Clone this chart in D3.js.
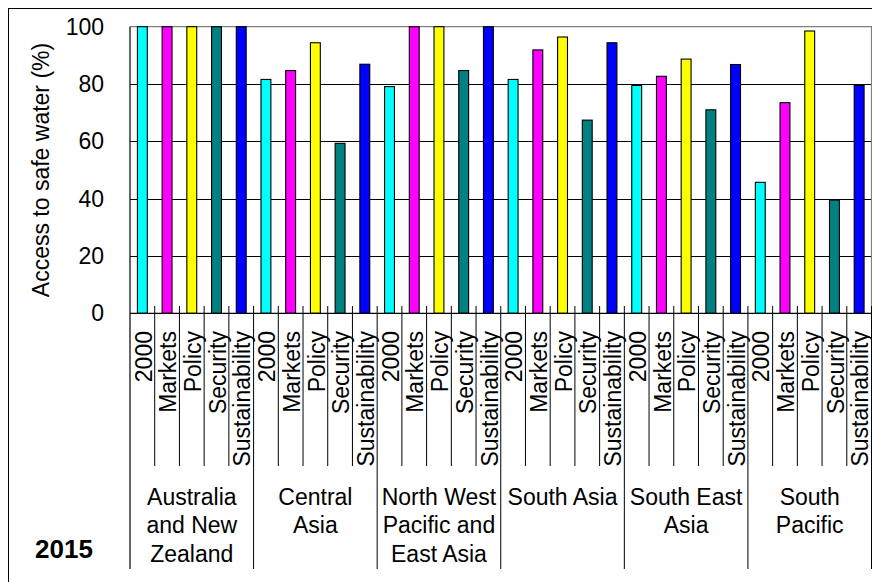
<!DOCTYPE html>
<html>
<head>
<meta charset="utf-8">
<script src="https://cdn.jsdelivr.net/npm/d3@7"></script>
<style>
  html, body { margin: 0; padding: 0; background: #fff; }
  svg { display: block; }
  text { font-family: Arial, "Liberation Sans", sans-serif; fill: #000; }
</style>
</head>
<body>
<svg id="chart" width="872" height="582"></svg>
<script>
// Regions (groups) with their multi-line labels
const regions = ["Australia and New Zealand", "Central Asia", "North West Pacific and East Asia",
                 "South Asia", "South East Asia", "South Pacific"];
const regionLines = [
  ["Australia", "and New", "Zealand"],
  ["Central", "Asia"],
  ["North West", "Pacific and", "East Asia"],
  ["South Asia"],
  ["South East", "Asia"],
  ["South", "Pacific"]
];
// Scenarios within each region
const scenarios = ["2000", "Markets", "Policy", "Security", "Sustainability"];
const scenarioColors = ["#00FFFF", "#FF00FF", "#FFFF00", "#008080", "#0000FF"];

// Access to safe water (%) per region, in scenario order
const ausNz        = [100, 100, 100, 100, 100];
const centralAsia  = [81.6, 84.7, 94.4, 59.3, 86.9];
const nwPacific    = [79.1, 100, 100, 84.7, 100];
const southAsia    = [81.6, 91.9, 96.4, 67.4, 94.4];
const southEast    = [79.5, 82.7, 88.7, 71.0, 86.8];
const southPacific = [45.7, 73.5, 98.5, 39.5, 79.5];
const regionValues = [ausNz, centralAsia, nwPacific, southAsia, southEast, southPacific];

const yTicks = [0, 20, 40, 60, 80, 100];
const yearLabel = "2015";
const yTitle = "Access to safe water (%)";

// Flatten into one row per bar
const rows = [];
regions.forEach((r, gi) => {
  scenarios.forEach((s, si) => {
    rows.push({ key: r + "|" + s, region: r, gi, scenario: s, si, value: regionValues[gi][si] });
  });
});

const svg = d3.select("#chart");
const plot = { left: 130, right: 871.5, top: 26.7, bottom: 313.3 };

const x = d3.scaleBand()
  .domain(rows.map(d => d.key))
  .range([plot.left, plot.right])
  .paddingInner(0.6)
  .paddingOuter(0.3);
const step = x.step();
const slotLeft = key => x(key) - step * 0.3;

const y = d3.scaleLinear().domain([0, 100]).range([plot.bottom, plot.top]);

// Outer frame
svg.append("rect")
  .attr("x", 8.5).attr("y", 8.5).attr("width", 900).attr("height", 600)
  .attr("fill", "none").attr("stroke", "#000").attr("stroke-width", 1);

// Horizontal gridlines
svg.append("g").selectAll("line")
  .data(yTicks.filter(t => t > 0 && t < 100))
  .join("line")
  .attr("x1", plot.left).attr("x2", plot.right)
  .attr("y1", d => Math.round(y(d)) + 0.5).attr("y2", d => Math.round(y(d)) + 0.5)
  .attr("stroke", "#000").attr("stroke-width", 1);

// Plot area border: top and right grey
svg.append("path")
  .attr("d", `M${plot.left},${plot.top}H${plot.right}V${plot.bottom}`)
  .attr("fill", "none").attr("stroke", "#808080").attr("stroke-width", 1.2);

// Bars
svg.append("g").selectAll("rect")
  .data(rows)
  .join("rect")
  .attr("x", d => x(d.key))
  .attr("width", x.bandwidth())
  .attr("y", d => y(d.value))
  .attr("height", d => y(0) - y(d.value))
  .attr("fill", d => scenarioColors[d.si])
  .attr("stroke", "#000").attr("stroke-width", 1.1);

// Y axis labels
const yAxis = d3.axisLeft(y).tickValues(yTicks).tickSize(0).tickPadding(26);
const ya = svg.append("g").attr("transform", `translate(${plot.left},0)`).call(yAxis);
ya.select(".domain").remove();
ya.selectAll("text").attr("font-size", "23px").attr("font-family", "Arial, 'Liberation Sans', sans-serif");

// Y axis line and x axis line
svg.append("line")
  .attr("x1", plot.left).attr("x2", plot.left)
  .attr("y1", plot.top).attr("y2", 569)
  .attr("stroke", "#000").attr("stroke-width", 1.2);
svg.append("line")
  .attr("x1", plot.left).attr("x2", plot.right)
  .attr("y1", plot.bottom).attr("y2", plot.bottom)
  .attr("stroke", "#000").attr("stroke-width", 1.2);

// Category separators: inner ones short, region ones long
const sepData = rows.slice(1).map(d => ({ xpos: slotLeft(d.key), major: d.si === 0 }));
sepData.push({ xpos: plot.right, major: true });
svg.append("g").selectAll("line")
  .data(sepData)
  .join("line")
  .attr("x1", d => d.xpos).attr("x2", d => d.xpos)
  .attr("y1", 306)
  .attr("y2", d => d.major ? 569 : 466)
  .attr("stroke", "#000").attr("stroke-width", 1);

// Scenario labels (rotated)
svg.append("g").selectAll("text")
  .data(rows)
  .join("text")
  .attr("transform", d => `translate(${x(d.key) + x.bandwidth() / 2},331) rotate(-90)`)
  .attr("text-anchor", "end")
  .attr("dy", "0.4em")
  .attr("font-size", "23px")
  .text(d => d.scenario);

// Region labels
const regionG = svg.append("g").selectAll("text")
  .data(regions)
  .join("text")
  .attr("text-anchor", "middle")
  .attr("font-size", "23px")
  .attr("x", (d, i) => {
    const first = x(rows[i * 5].key) - step * 0.3;
    return first + step * 2.5;
  })
  .attr("y", 504.5);
regionG.selectAll("tspan")
  .data((d, i) => regionLines[i])
  .join("tspan")
  .attr("x", function () { return d3.select(this.parentNode).attr("x"); })
  .attr("dy", (d, i) => i === 0 ? 0 : 28.8)
  .text(d => d);

// Y axis title
svg.append("text")
  .attr("transform", `translate(49,${(plot.top + plot.bottom) / 2}) rotate(-90)`)
  .attr("text-anchor", "middle")
  .attr("font-size", "23px")
  .text(yTitle);

// Year label
svg.append("text")
  .attr("x", 35).attr("y", 558.3)
  .attr("font-size", "26px").attr("font-weight", "bold")
  .text(yearLabel);
</script>
</body>
</html>
